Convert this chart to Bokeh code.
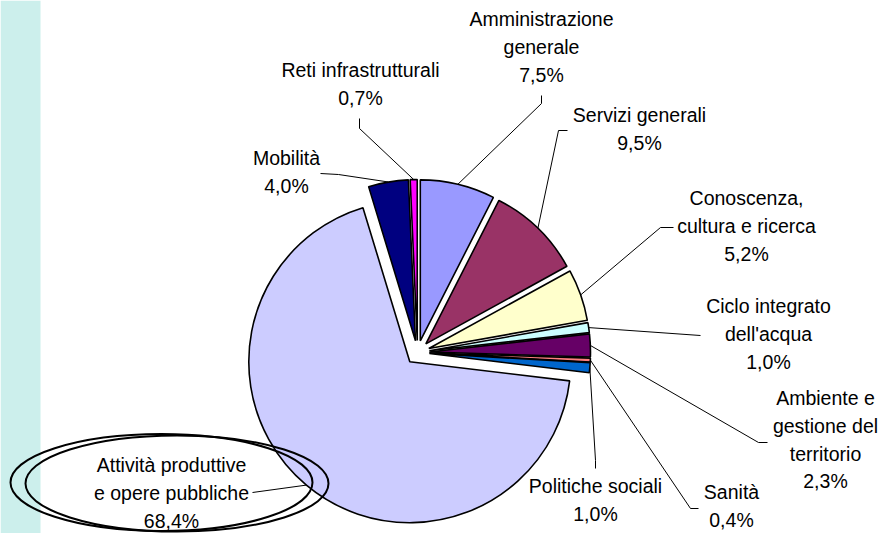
import math
from bokeh.plotting import figure
from bokeh.models import Range1d, ColumnDataSource
from bokeh.core.properties import value
from bokeh.embed import file_html
from bokeh.resources import INLINE

# ---------------- data ----------------
categories = ["Amministrazione generale", "Servizi generali", "Conoscenza, cultura e ricerca",
              "Ciclo integrato dell'acqua", "Ambiente e gestione del territorio", "Sanità",
              "Politiche sociali", "Attività produttive e opere pubbliche", "Mobilità",
              "Reti infrastrutturali"]
shares = [7.5, 9.5, 5.2, 1.0, 2.3, 0.4, 1.0, 68.4, 4.0, 0.7]
label_lines = [["Amministrazione", "generale"], ["Servizi generali"], ["Conoscenza,", "cultura e ricerca"],
               ["Ciclo integrato", "dell'acqua"], ["Ambiente e", "gestione del", "territorio"], ["Sanità"],
               ["Politiche sociali"], ["Attività produttive", "e opere pubbliche"], ["Mobilità"],
               ["Reti infrastrutturali"]]
colors = ["#9999FF", "#993366", "#FFFFCC", "#CCFFFF", "#660066", "#FF8080",
          "#0066CC", "#CCCCFF", "#000080", "#FF00FF"]

# ---------------- layout (page pixels) ----------------
W, H = 882, 533
CX, CY, R, EXPLODE = 417, 352, 161, 12
label_x = [541, 639, 746, 768, 825, 731, 595, 171, 286, 360]
label_y0 = [26, 122, 205, 313, 405, 499, 493, 472, 165, 77]   # baseline of first line
TEXT_SHIFT = 7.5      # compensates the renderer's baseline placement
LINE_H = 27.8
leader_start = [(541, 95), (567, 130), (673, 227), (700, 335), (767, 442), (698, 508),
                (595, 468), (252, 492), (320, 173), (359, 118)]
leader_knee = [(541, 103), (558, 130), (660, 227), (700, 335), (758, 442), (690, 508),
               (595, 460), (252, 492), (338, 174), (359, 128)]
ell_x = [161, 176.5]
ell_y = [482, 483]
ell_w = [302, 303]
ell_h = [97, 96]

total = sum(shares)
pct_labels = [("%.1f%%" % v).replace(".", ",") for v in shares]

p = figure(width=W, height=H, x_range=Range1d(0, W), y_range=Range1d(-H, 0),
           output_backend="svg", toolbar_location=None, min_border=0)
p.axis.visible = False
p.grid.visible = False
p.outline_line_color = None
p.background_fill_color = "white"
p.border_fill_color = "white"

# teal strip on the left
p.quad(left=[0], right=[40], bottom=[-H], top=[0], fill_color="#CCEFEC", line_color=None)

# wedges
xs, ys, st, en, mids = [], [], [], [], []
acc = 0.0
for v in shares:
    a = acc / total
    b = (acc + v) / total
    acc += v
    m = math.pi / 2 - 2 * math.pi * (a + b) / 2
    mids.append(m)
    xs.append(CX + EXPLODE * math.cos(m))
    ys.append(-CY + EXPLODE * math.sin(m))
    st.append(math.pi / 2 - 2 * math.pi * a)
    en.append(math.pi / 2 - 2 * math.pi * b)

src = ColumnDataSource(dict(x=xs, y=ys, start=st, end=en, color=colors))
p.wedge(x="x", y="y", radius=R, start_angle="start", end_angle="end", direction="clock",
        fill_color="color", line_color="black", line_width=1.6, source=src)

# leader lines
lx, ly = [], []
for i in range(len(shares)):
    ex = xs[i] + R * math.cos(mids[i])
    ey = ys[i] + R * math.sin(mids[i])
    lx.append([leader_start[i][0], leader_knee[i][0], ex])
    ly.append([-leader_start[i][1], -leader_knee[i][1], ey])
p.multi_line(xs=lx, ys=ly, line_color="black", line_width=1)

# labels
tx, ty, tt = [], [], []
for i in range(len(shares)):
    lines = label_lines[i] + [pct_labels[i]]
    for j, t in enumerate(lines):
        tx.append(label_x[i])
        ty.append(-(label_y0[i] - TEXT_SHIFT + j * LINE_H))
        tt.append(t)
p.text(x=tx, y=ty, text=tt, text_align="center", text_baseline="alphabetic",
       text_font=value("Liberation Sans"), text_font_size=value("19.5px"), text_color="black")

# hand-drawn style double ellipse around the largest label
p.ellipse(x=ell_x, y=[-v for v in ell_y], width=ell_w, height=ell_h,
          fill_color=None, line_color="black", line_width=2)

open("out.html", "w").write(file_html(p, INLINE))
